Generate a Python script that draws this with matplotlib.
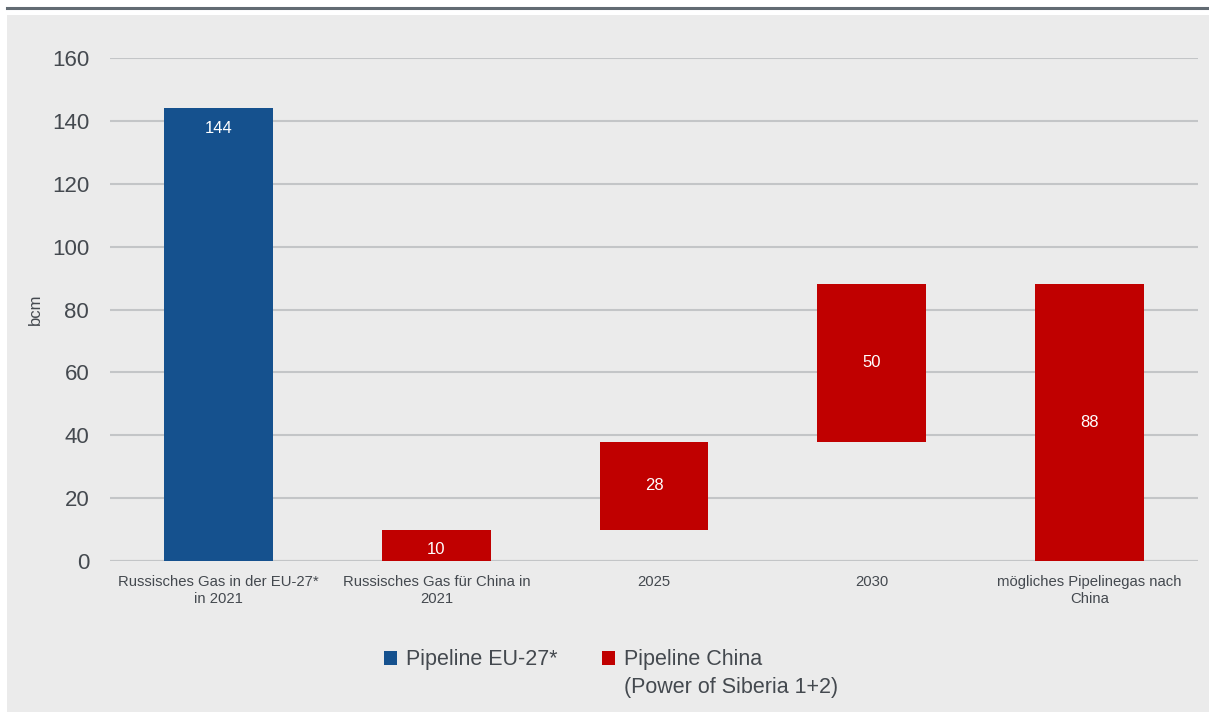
import numpy as np
import matplotlib
matplotlib.use("Agg")
import matplotlib.pyplot as plt
from matplotlib.patches import Rectangle, Patch
from matplotlib.lines import Line2D

categories = ["Russisches Gas in der EU-27*\nin 2021",
              "Russisches Gas für China in\n2021",
              "2025",
              "2030",
              "mögliches Pipelinegas nach\nChina"]
values = [144, 10, 28, 50, 88]
# waterfall steps for China: 10 -> +28 -> +50, total shown separately
bottoms = [0, 0, 10, 10 + 28, 0]
series = ["eu", "cn", "cn", "cn", "cn"]
legend_labels = ["Pipeline EU-27*", "Pipeline China"]
legend_extra = "(Power of Siberia 1+2)"
yticks = [0, 20, 40, 60, 80, 100, 120, 140, 160]

blue = "#15518e"
red = "#c00000"
txt = "#44494f"
bg = "#ebebeb"

plt.rcParams['font.family'] = ['Liberation Sans', 'DejaVu Sans']

fig = plt.figure(figsize=(12.09, 7.13), dpi=100)
fig.patch.set_facecolor("white")
fig.patches.append(Rectangle((7 / 1209, 1 - 712 / 713), 1 - 7 / 1209, (712 - 15) / 713,
                             transform=fig.transFigure, facecolor=bg, edgecolor="none", zorder=-5))
fig.lines.append(Line2D([7 / 1209, 1], [1 - 7.5 / 713, 1 - 7.5 / 713], transform=fig.transFigure,
                        color="#626b73", linewidth=2.2))

ax = fig.add_axes([110 / 1209, 1 - 561 / 713, (1198 - 110) / 1209, (561 - 58) / 713])
ax.set_facecolor("none")

x = np.arange(len(categories))
colors = [blue if s == "eu" else red for s in series]
bars = ax.bar(x, values, bottom=bottoms, width=0.5, color=colors, zorder=3)

for i, b in enumerate(bars):
    if series[i] == "eu":
        y = bottoms[i] + values[i] - 6.5
    elif values[i] < 15:
        y = bottoms[i] + values[i] / 2 - 1.4
    else:
        y = bottoms[i] + values[i] / 2
    kw = {}
    if values[i] < 15:
        kw["bbox"] = dict(facecolor=red, edgecolor="none", pad=2.5)
    ax.text(x[i], y, str(values[i]), ha="center", va="center", color="white",
            fontsize=12, zorder=4, **kw)

ax.set_xlim(-0.5, len(categories) - 0.5)
ax.set_ylim(0, 160)
ax.set_yticks(yticks)
ax.set_yticklabels([str(t) for t in yticks], fontsize=16, color=txt)
ax.set_xticks(x)
ax.set_xticklabels(categories, fontsize=10.7, color=txt, linespacing=1.3)
ax.tick_params(axis="both", length=0)
ax.tick_params(axis="y", pad=15)
ax.tick_params(axis="x", pad=10)
ax.grid(axis="y", color="#c3c5c7", linewidth=1.5, zorder=1)
for s in ax.spines.values():
    s.set_visible(False)
ax.axhline(0, color="#c3c5c7", linewidth=1.5, zorder=2)
ax.set_ylabel("bcm", fontsize=12, color=txt)
ax.yaxis.set_label_coords(-0.062, 0.5)

handles = [Patch(facecolor=blue), Patch(facecolor=red)]
leg = fig.legend(handles, legend_labels, loc="center", bbox_to_anchor=(0.474, 1 - 660 / 713),
                 ncol=2, frameon=False, fontsize=15.5, handlelength=0.6, handleheight=0.6,
                 handletextpad=0.4, columnspacing=2.1, labelcolor=txt)

# second line of the China legend entry, aligned under its first line
fig.canvas.draw()
bb = leg.get_texts()[1].get_window_extent()
fig.text(bb.x0 / 1209, (bb.y0 - 27) / 713 + (bb.height / 2) / 713, legend_extra,
         fontsize=15.5, color=txt, ha="left", va="center")

fig.savefig("out.png", dpi=100, facecolor="white")
